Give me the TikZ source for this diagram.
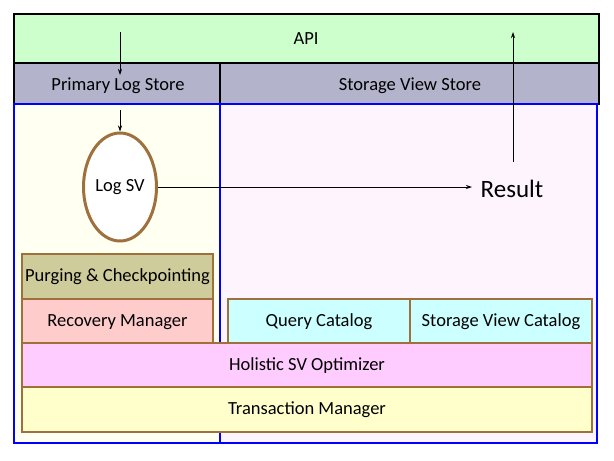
\documentclass[tikz,border=0pt]{standalone}
\usepackage{fontspec}
\setmainfont{Carlito}
\usetikzlibrary{arrows.meta,shapes.geometric}
\definecolor{apigreen}{HTML}{CCFFCC}
\definecolor{hdr}{HTML}{B3B3CC}
\definecolor{lefty}{HTML}{FFFFF2}
\definecolor{rightp}{HTML}{FDF4FD}
\definecolor{brownb}{HTML}{A0703C}
\definecolor{purge}{HTML}{CFCC9C}
\definecolor{recov}{HTML}{FFCCCC}
\definecolor{catal}{HTML}{CCFFFF}
\definecolor{holis}{HTML}{FFCCFF}
\definecolor{trans}{HTML}{FFFFCC}
\tikzset{
  blk/.style={draw=black, line width=1.5pt},
  brn/.style={draw=brownb, line width=1.5pt},
  lbl/.style={font=\fontsize{18.5}{21}\selectfont},
  arr/.style={-{Stealth[length=6pt,width=4pt]}, line width=0.8pt}
}
\begin{document}
\begin{tikzpicture}[x=1pt,y=-1pt]
\useasboundingbox (0,0) rectangle (614,461);
% API
\draw[blk, fill=apigreen] (14,14) rectangle (599,63);
\node[lbl] (api) at (306,39) {API};
% header row
\draw[blk, fill=hdr] (14,63) rectangle (599,104);
\draw[blk] (220,63) -- (220,104);
\node[lbl] (pls) at (118,86) {Primary Log Store};
\node[lbl] (svs) at (410,86) {Storage View Store};
% regions
\fill[lefty] (14,104) rectangle (220,443);
\fill[rightp] (220,104) rectangle (597,443);
\draw[blue, line width=2.5pt] (14,104) rectangle (597,443);
\draw[blue, line width=2.5pt] (220,104) -- (220,443);
% Log SV
\node[draw=brownb, line width=3pt, fill=white, ellipse, minimum width=73pt, minimum height=108pt, inner sep=0pt, lbl] (logsv) at (120,187) {Log SV};
% boxes
\draw[brn, fill=purge] (22,254) rectangle (213,299);
\node[lbl] (purg) at (117.5,277) {Purging \& Checkpointing};
\draw[brn, fill=recov] (22,299) rectangle (213,343);
\node[lbl] (recm) at (117.5,322) {Recovery Manager};
\draw[brn, fill=catal] (228,299) rectangle (410,343);
\node[lbl] (qcat) at (319,322) {Query Catalog};
\draw[brn, fill=catal] (410,299) rectangle (592,343);
\node[lbl] (svcat) at (501,322) {Storage View Catalog};
\draw[brn, fill=holis] (22,343) rectangle (592,387);
\node[lbl] (hol) at (307,366) {Holistic SV Optimizer};
\draw[brn, fill=trans] (22,387) rectangle (592,432);
\node[lbl] (tm) at (307,410) {Transaction Manager};
% Result
\node[font=\fontsize{25}{28}\selectfont, inner sep=2pt] (res) at (512,189) {Result};
% arrows
\coordinate (a1s) at (120,32);
\coordinate (a1e) at (120,75);
\coordinate (a2s) at (120,110);
\coordinate (up) at (513,32);
\coordinate (upstart) at (513,162);
\coordinate (resin) at (472,187);
\draw[arr] (a1s) -- (a1e);
\draw[arr] (a2s) -- (logsv.north);
\draw[arr] (logsv.east) -- (resin);
\draw[arr] (upstart) -- (up);
\end{tikzpicture}
\end{document}
